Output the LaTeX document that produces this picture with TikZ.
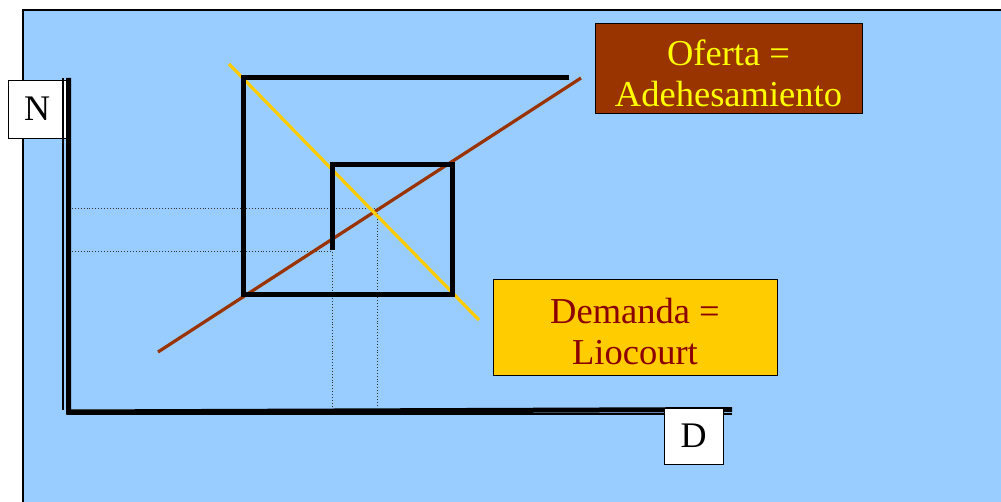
\documentclass[tikz,border=0pt]{standalone}
\usepackage{fontspec}
\setmainfont{Liberation Serif}
\definecolor{bgblue}{HTML}{99CCFF}
\definecolor{oferta}{HTML}{993300}
\definecolor{demanda}{HTML}{FFCC00}
\definecolor{demtext}{HTML}{8B0000}
\definecolor{oftext}{HTML}{FFFF00}
\begin{document}
\begin{tikzpicture}[x=1pt,y=-1pt,
  lbl/.style={draw=black,line width=0.8pt,fill=white,inner sep=0pt,font=\fontsize{36}{40}\selectfont},
  tag/.style={draw=black,line width=1pt,inner sep=0pt},
  tagtext/.style={inner sep=0pt,align=center,font=\fontsize{36.5}{41}\selectfont},
  web/.style={line width=5pt,line join=miter,line cap=butt},
  guide/.style={dotted,line width=0.9pt,black!80}]
\useasboundingbox (0,0) rectangle (1001,502);
\fill[white] (0,0) rectangle (1001,502);
\begin{scope}
\clip (0,0) rectangle (1001,502);
\draw[fill=bgblue,line width=1.5pt] (23,10) rectangle (1020,520);
\end{scope}
% N label
\node[lbl,minimum width=58pt,minimum height=58pt] (N) at (37,109) {N};
% coordinates
\coordinate (axtop) at (68.5,78);
\coordinate (axright) at (732,409.5);
% axes
\draw[line width=2pt] (63,78) -- (63,410);
\draw[line width=2pt] (67,414) -- (732,414);
\draw[line width=5pt] (axtop) -- (68.5,412) -- (axright);
% guide lines
\coordinate (E) at (377,208);
\coordinate (P) at (332,251);
\draw[guide] (72,208) -- (E) -- (377,407);
\draw[guide] (72,251) -- (P) -- (332,407);
% supply and demand lines
\coordinate (s1) at (158,352);
\coordinate (s2) at (581,78);
\coordinate (d1) at (229,64);
\coordinate (d2) at (479,320);
\draw[oferta,line width=3.2pt] (s1) -- (s2);
\draw[demanda,line width=3.2pt] (d1) -- (d2);
% cobweb
\draw[web] (569,78) -- (243,78) -- (243,295) -- (452,295) -- (452,165) -- (332,165) -- (332,250);
% D label
\node[lbl,minimum width=59pt,minimum height=56pt] (D) at (693.5,436) {D};
% tags
\node[tag,fill=oferta,minimum width=267pt,minimum height=90pt] (of) at (728.5,69) {};
\node[tagtext,text=oftext] (oft) at ([yshift=-4pt]of.center) {Oferta =\\Adehesamiento};
\node[tag,fill=demanda,minimum width=284pt,minimum height=96pt] (dm) at (635,328) {};
\node[tagtext,text=demtext] (dmt) at ([yshift=-4pt]dm.center) {Demanda =\\Liocourt};
\end{tikzpicture}
\end{document}
